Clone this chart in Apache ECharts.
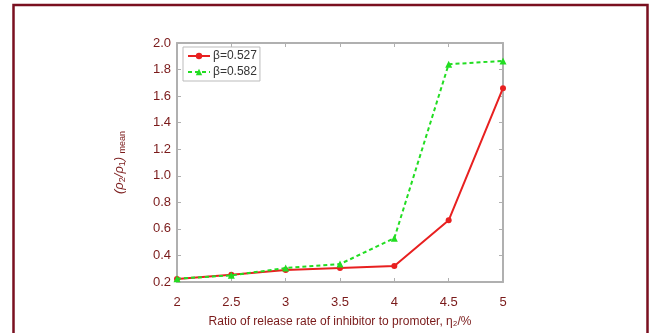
<!DOCTYPE html>
<html>
<head>
<meta charset="utf-8">
<script src="https://cdn.jsdelivr.net/npm/echarts@6/dist/echarts.min.js"></script>
<style>
html,body{margin:0;padding:0;background:#fff;}
#main{width:651px;height:333px;}
</style>
</head>
<body>
<div id="main"></div>
<script>
var xCats=[2,2.5,3,3.5,4,4.5,5];
var redVals=[0.222,0.255,0.29,0.305,0.32,0.665,1.66];
var greenVals=[0.225,0.25,0.305,0.335,0.53,1.84,1.865];
var yTicks=[0.2,0.4,0.6,0.8,1.0,1.2,1.4,1.6,1.8,2.0];

var txtColor='#7a1a1a';
var axisGray='#b0b0b0';

function pairs(v){
	var out=[];
	for(var i=0;i<xCats.length;i++){ out.push([xCats[i],v[i]]); }
	return out;
}

var chart=echarts.init(document.getElementById('main'));
var option={
	backgroundColor:'#fff',
	animation:false,
	textStyle:{fontFamily:'Liberation Sans, Arial, sans-serif'},
	grid:{left:177,top:43,width:326,height:245,show:false},
	legend:{
		left:183,top:47,orient:'vertical',
		itemWidth:22,itemHeight:8,itemGap:4,
		padding:[3,3,3,4],
		borderColor:'#bbb',borderWidth:1,
		backgroundColor:'#fff',
		textStyle:{color:'#333',fontSize:12,padding:[0,0,0,-2],fontFamily:'Liberation Sans, Arial, sans-serif'},
		data:['β=0.527','β=0.582']
	},
	xAxis:[{
		type:'value',min:2,max:5,interval:0.5,
		axisLine:{show:true,onZero:false,lineStyle:{color:axisGray,width:2}},
		axisTick:{show:true,inside:true,length:4,lineStyle:{color:axisGray}},
		splitLine:{show:false},
		axisLabel:{color:txtColor,fontSize:13,margin:14},
		name:'Ratio of release rate of inhibitor to promoter, η₂/%',
		nameLocation:'middle',nameGap:34,
		nameTextStyle:{color:txtColor,fontSize:12}
	},{
		type:'value',min:2,max:5,interval:0.5,position:'top',
		axisLine:{show:true,onZero:false,lineStyle:{color:axisGray,width:2}},
		axisTick:{show:true,inside:true,length:4,lineStyle:{color:axisGray}},
		axisLabel:{show:false},splitLine:{show:false}
	}],
	yAxis:[{
		type:'value',min:0.2,max:2.0,interval:0.2,
		axisLine:{show:true,onZero:false,lineStyle:{color:axisGray,width:2}},
		axisTick:{show:true,inside:true,length:4,lineStyle:{color:axisGray}},
		splitLine:{show:false},
		axisLabel:{color:txtColor,fontSize:13,margin:6,
			formatter:function(v){return v.toFixed(1);}},
		name:'{a|(ρ}{s|2}{a|/ρ}{s|1}{a|)} {s|mean}',
		nameLocation:'middle',nameGap:50,nameRotate:90,
		nameTextStyle:{color:txtColor,rich:{
			a:{fontSize:13,color:txtColor,fontStyle:'italic'},
			s:{fontSize:9,color:txtColor,verticalAlign:'bottom',padding:[6,0,0,0]}
		}}
	},{
		type:'value',min:0.2,max:2.0,interval:0.2,position:'right',
		axisLine:{show:true,onZero:false,lineStyle:{color:axisGray,width:2}},
		axisTick:{show:true,inside:true,length:4,lineStyle:{color:axisGray}},
		axisLabel:{show:false},splitLine:{show:false}
	}],
	series:[{
		name:'β=0.527',type:'line',data:pairs(redVals),
		symbol:'circle',symbolSize:6,
		itemStyle:{color:'#e82020'},
		lineStyle:{color:'#e82020',width:2},
		z:3
	},{
		name:'β=0.582',type:'line',data:pairs(greenVals),
		symbol:'triangle',symbolSize:7,
		itemStyle:{color:'#22dd22'},
		lineStyle:{color:'#22dd22',width:2,type:[4,3]},
		z:4
	}],
	graphic:[{
		type:'polyline',
		shape:{points:[[13.5,340],[13.5,5],[647.5,5],[647.5,340]]},
		style:{stroke:'#7a1020',lineWidth:2.5,fill:null},
		silent:true
	}]
};
chart.setOption(option);
</script>
</body>
</html>
